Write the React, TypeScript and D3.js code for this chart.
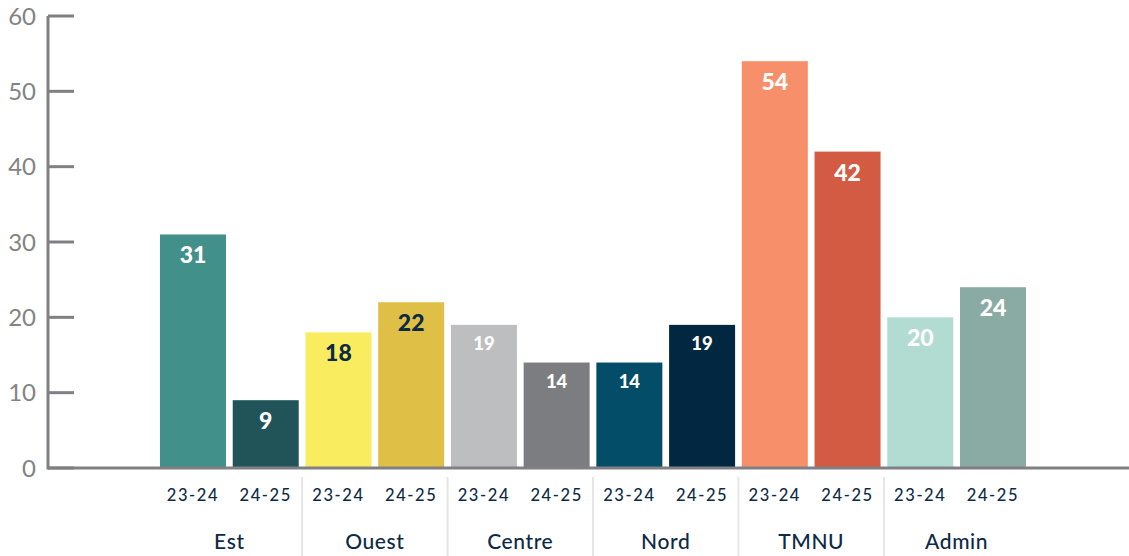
import React from "react";
import * as d3 from "d3";

const groups = ["Est", "Ouest", "Centre", "Nord", "TMNU", "Admin"];
const periods = ["23-24", "24-25"];
const values2324 = [31, 18, 19, 14, 54, 20];
const values2425 = [9, 22, 14, 19, 42, 24];
const colors2324 = ["#42908a", "#f9ed5f", "#bdbec0", "#034d69", "#f68f6a", "#b2dcd2"];
const colors2425 = ["#215458", "#e0bf47", "#7c7d81", "#012840", "#d35a43", "#8aaba3"];
const yTicks = [0, 10, 20, 30, 40, 50, 60];
const darkLabelGroups = ["Ouest"];
const smallLabelGroups = ["Centre", "Nord"];

const W = 1129;
const H = 556;
const NAVY = "#0d2a45";
const AXIS = "#808084";
const FONT = "Lato, 'Open Sans', sans-serif";

type Bar = { key: string; group: string; period: string; value: number; color: string };

const bars: Bar[] = groups.flatMap((g, i) => [
  { key: `${g}-${periods[0]}`, group: g, period: periods[0], value: values2324[i], color: colors2324[i] },
  { key: `${g}-${periods[1]}`, group: g, period: periods[1], value: values2425[i], color: colors2425[i] },
]);

export default function App() {
  const x = d3
    .scaleBand<string>()
    .domain(bars.map((b) => b.key))
    .range([160, 1026])
    .paddingInner(0.0925)
    .paddingOuter(0);
  const y = d3.scaleLinear().domain([0, 60]).range([468, 16]);
  const bw = x.bandwidth();
  const step = x.step();

  return (
    <svg width={W} height={H} style={{ position: "absolute", left: 0, top: 0, background: "#fff" }}>
      {/* group separators */}
      {groups.slice(1).map((g) => {
        const sx = (x(`${g}-${periods[0]}`) as number) - (step - bw) / 2;
        return <line key={g} x1={sx} x2={sx} y1={477} y2={H} stroke="#e6e6e6" strokeWidth={2} />;
      })}
      {/* bars */}
      {bars.map((b) => (
        <rect key={b.key} x={x(b.key)} y={y(b.value)} width={bw} height={y(0) - y(b.value)} fill={b.color} />
      ))}
      {/* axes */}
      <line x1={48} x2={48} y1={y(60)} y2={y(0) + 1.5} stroke={AXIS} strokeWidth={3} />
      <line x1={48} x2={W} y1={y(0)} y2={y(0)} stroke={AXIS} strokeWidth={3} />
      {yTicks.map((t) => (
        <g key={t}>
          <line x1={48} x2={74} y1={y(t)} y2={y(t)} stroke={AXIS} strokeWidth={3} />
          <text x={36} y={y(t) + 8.5} textAnchor="end" fontFamily={FONT} fontSize={24} fill="#838383">
            {t}
          </text>
        </g>
      ))}
      {/* value labels */}
      {bars.map((b) => {
        const small = smallLabelGroups.includes(b.group);
        const dark = darkLabelGroups.includes(b.group);
        return (
          <text
            key={b.key}
            x={(x(b.key) as number) + bw / 2}
            y={y(b.value) + (small ? 25 : 29)}
            textAnchor="middle"
            fontFamily={FONT}
            fontWeight={900}
            fontSize={small ? 18.5 : 23}
            fill={dark ? NAVY : "#ffffff"}
          >
            {b.value}
          </text>
        );
      })}
      {/* period labels */}
      {bars.map((b) => (
        <text
          key={b.key}
          x={(x(b.key) as number) + bw / 2}
          y={501}
          textAnchor="middle"
          fontFamily={FONT}
          fontSize={16.5}
          fontWeight={500}
          fill={NAVY}
          letterSpacing={1.6}
        >
          {b.period}
        </text>
      ))}
      {/* group labels */}
      {groups.map((g) => {
        const cx = (x(`${g}-${periods[0]}`) as number) + (bw + step) / 2;
        return (
          <text
            key={g}
            x={cx}
            y={549}
            textAnchor="middle"
            fontFamily={FONT}
            fontSize={21}
            fontWeight={500}
            letterSpacing={0.6}
            fill={NAVY}
          >
            {g}
          </text>
        );
      })}
    </svg>
  );
}
